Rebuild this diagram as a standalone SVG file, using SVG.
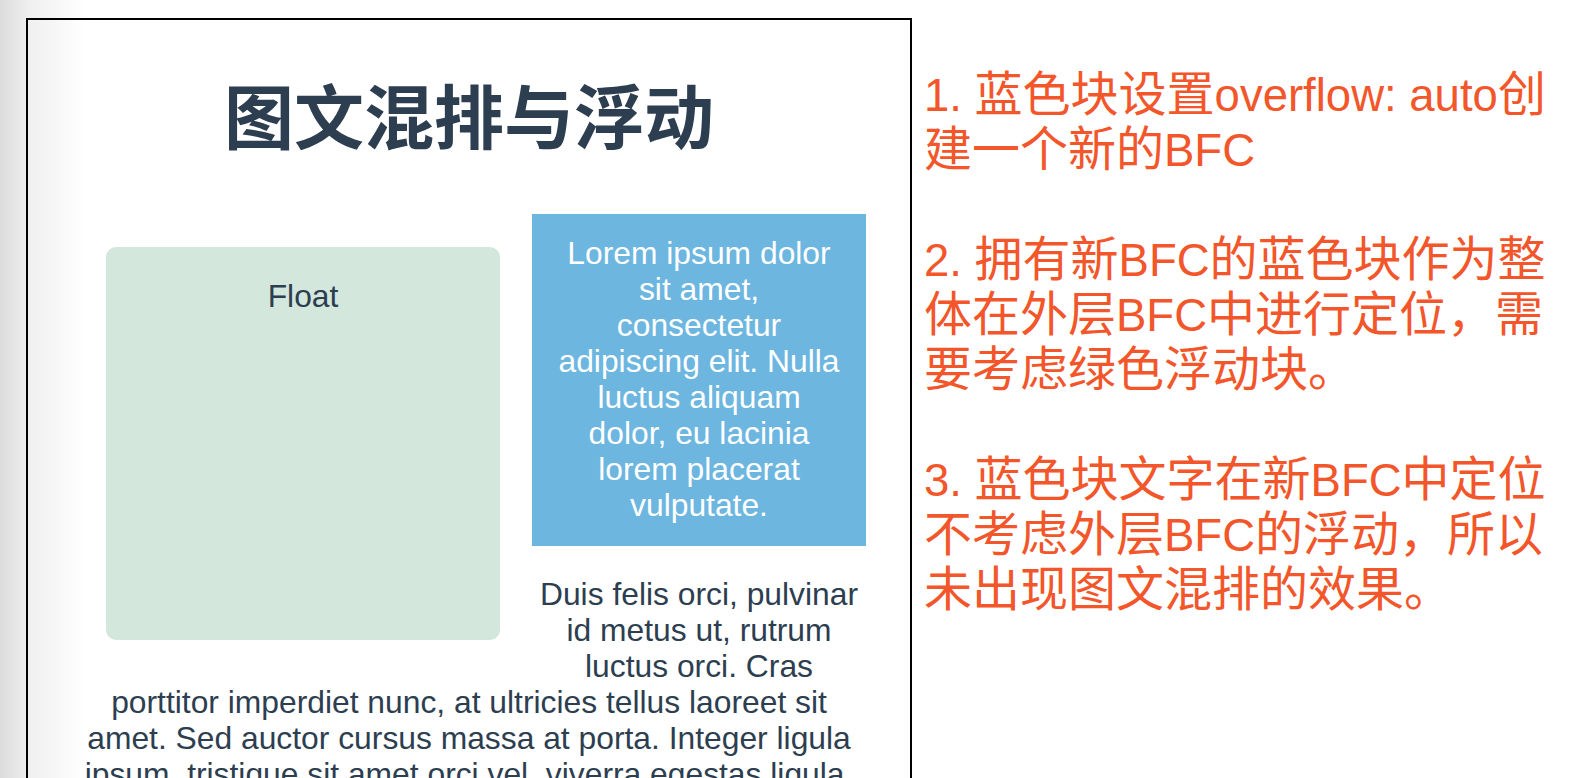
<svg xmlns="http://www.w3.org/2000/svg" width="1576" height="778" viewBox="0 0 1576 778">
  <defs>
    <linearGradient id="shade" x1="0" y1="0" x2="1" y2="0">
      <stop offset="0" stop-color="#000" stop-opacity="0.14"/>
      <stop offset="0.35" stop-color="#000" stop-opacity="0.06"/>
      <stop offset="1" stop-color="#000" stop-opacity="0"/>
    </linearGradient>
    <style>
      .body { font-family: "Liberation Sans", Arial, sans-serif; font-size: 31.8px; fill: #2c3e50; text-anchor: middle; }
      .blue { font-family: "Liberation Sans", Arial, sans-serif; font-size: 31.8px; fill: #ffffff; text-anchor: middle; }
      .title { font-family: "Noto Sans CJK SC", sans-serif; font-size: 70px; font-weight: 700; fill: #2c3e50; text-anchor: middle; }
      .note { font-family: "Liberation Sans", "Noto Sans CJK SC", sans-serif; font-size: 48px; fill: #f2562a; }
      .lat { font-size: 45.5px; }
    </style>
  </defs>
  <rect x="0" y="0" width="1576" height="778" fill="#ffffff"/>
  <rect x="0" y="0" width="85" height="778" fill="url(#shade)"/>

  <g id="frame">
    <rect x="27" y="19" width="884" height="800" fill="none" stroke="#000" stroke-width="2"/>
  </g>

  <g id="title">
    <text class="title" x="469" y="144">图文混排与浮动</text>
  </g>

  <g id="float-box">
    <rect x="106" y="247" width="394" height="393" rx="10" ry="10" fill="#d3e7dd"/>
    <text class="body" x="303" y="307">Float</text>
  </g>

  <g id="blue-box">
    <rect x="532" y="214" width="334" height="332" fill="#6cb6e0"/>
    <text class="blue" x="699" y="263.5">Lorem ipsum dolor</text>
    <text class="blue" x="699" y="299.5">sit amet,</text>
    <text class="blue" x="699" y="335.5">consectetur</text>
    <text class="blue" x="699" y="371.5">adipiscing elit. Nulla</text>
    <text class="blue" x="699" y="407.5">luctus aliquam</text>
    <text class="blue" x="699" y="443.5">dolor, eu lacinia</text>
    <text class="blue" x="699" y="479.5">lorem placerat</text>
    <text class="blue" x="699" y="515.5">vulputate.</text>
  </g>

  <g id="paragraph">
    <text class="body" x="699" y="605">Duis felis orci, pulvinar</text>
    <text class="body" x="699" y="641">id metus ut, rutrum</text>
    <text class="body" x="699" y="677">luctus orci. Cras</text>
    <text class="body" x="469" y="713">porttitor imperdiet nunc, at ultricies tellus laoreet sit</text>
    <text class="body" x="469" y="749">amet. Sed auctor cursus massa at porta. Integer ligula</text>
    <text class="body" x="469" y="785">ipsum, tristique sit amet orci vel, viverra egestas ligula.</text>
  </g>

  <g id="notes">
    <text class="note" x="924" y="110.5"><tspan class="lat">1. </tspan>蓝色块设置<tspan class="lat">overflow: auto</tspan>创</text>
    <text class="note" x="924" y="165.5">建一个新的<tspan class="lat">BFC</tspan></text>
    <text class="note" x="924" y="275.5"><tspan class="lat">2. </tspan>拥有新<tspan class="lat">BFC</tspan>的蓝色块作为整</text>
    <text class="note" x="924" y="330.5">体在外层<tspan class="lat">BFC</tspan>中进行定位，需</text>
    <text class="note" x="924" y="385.5">要考虑绿色浮动块。</text>
    <text class="note" x="924" y="495.5"><tspan class="lat">3. </tspan>蓝色块文字在新<tspan class="lat">BFC</tspan>中定位</text>
    <text class="note" x="924" y="550.5">不考虑外层<tspan class="lat">BFC</tspan>的浮动，所以</text>
    <text class="note" x="924" y="605.5">未出现图文混排的效果。</text>
  </g>
</svg>
